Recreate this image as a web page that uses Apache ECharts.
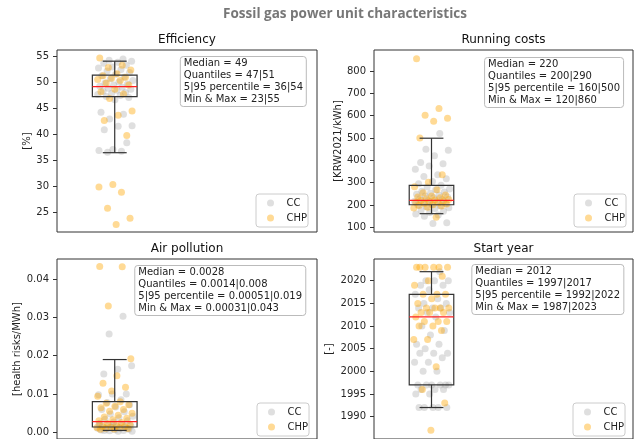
<!DOCTYPE html>
<html>
<head>
  <meta charset="utf-8">
  <title>Fossil gas power unit characteristics</title>
  <script src="https://cdn.jsdelivr.net/npm/echarts@6/dist/echarts.min.js"></script>
  <style>
    html, body { margin: 0; padding: 0; background: #fff; }
    #main { width: 634px; height: 439px; }
  </style>
</head>
<body>
  <div id="main"></div>
  <script>
    // values
    const effCC = [54.4, 54.2, 54.0, 53.8, 53.6, 53.2, 52.9, 52.7, 52.4, 52.1, 51.8, 51.5, 51.2, 50.9, 50.6, 50.3, 50.0, 49.8, 49.6, 49.4, 49.2, 49.0, 48.8, 48.6, 48.4, 48.2, 48.0, 47.8, 47.6, 47.4, 47.2, 47.0, 46.6, 44.2, 43.8, 42.9, 41.6, 41.5, 40.8, 38.3, 37.0, 36.8, 36.7, 36.5];
    const effCHP = [54.6, 53.2, 52.8, 52.3, 51.6, 51.2, 50.9, 50.7, 50.5, 50.3, 49.8, 49.4, 48.6, 48.1, 47.7, 46.8, 44.4, 43.6, 42.6, 39.7, 30.3, 29.8, 28.8, 25.7, 23.8, 22.6];
    const effBox = [36.4, 47.2, 49.1, 51.3, 54.0];
    const effStats = ['Median = 49', 'Quantiles = 47|51', '5|95 percentile = 36|54', 'Min & Max = 23|55'];
    const effTicks = [25, 30, 35, 40, 45, 50, 55];

    const rcCC = [520, 450, 445, 420, 390, 385, 375, 360, 335, 328, 318, 305, 295, 288, 280, 272, 268, 262, 258, 252, 248, 244, 240, 236, 232, 228, 224, 220, 217, 214, 210, 206, 203, 200, 196, 192, 188, 184, 178, 172, 166, 160, 155, 150, 120, 117];
    const rcCHP = [855, 632, 602, 588, 575, 500, 335, 302, 282, 268, 255, 245, 240, 236, 232, 228, 225, 222, 220, 218, 215, 212, 210, 207, 204, 201, 198, 195, 190, 186, 145];
    const rcBox = [161, 201, 221, 288, 499];
    const rcStats = ['Median = 220', 'Quantiles = 200|290', '5|95 percentile = 160|500', 'Min & Max = 120|860'];
    const rcTicks = [100, 200, 300, 400, 500, 600, 700, 800];

    const apCC = [0.0303, 0.0257, 0.0174, 0.0165, 0.0152, 0.0100, 0.0100, 0.0098, 0.0085, 0.0078, 0.0072, 0.0066, 0.0060, 0.0054, 0.0048, 0.0042, 0.0038, 0.0034, 0.0030, 0.0027, 0.0024, 0.0021, 0.0019, 0.0017, 0.0015, 0.0014, 0.0013, 0.0012, 0.0011, 0.0010, 0.0009, 0.0008, 0.0007, 0.0006, 0.0005, 0.0004, 0.0003, 0.0003, 0.0005, 0.0010, 0.0016, 0.0022];
    const apCHP = [0.0433, 0.0432, 0.0330, 0.0192, 0.0148, 0.0128, 0.0118, 0.0108, 0.0094, 0.0080, 0.0076, 0.0072, 0.0068, 0.0064, 0.0060, 0.0055, 0.0050, 0.0045, 0.0040, 0.0037, 0.0033, 0.0030, 0.0026, 0.0023, 0.0020, 0.0018, 0.0016, 0.0015, 0.0014, 0.0013, 0.0012, 0.0011, 0.0010, 0.0009, 0.0008];
    const apBox = [0.00051, 0.0014, 0.0028, 0.008, 0.019];
    const apStats = ['Median = 0.0028', 'Quantiles = 0.0014|0.008', '5|95 percentile = 0.00051|0.019', 'Min & Max = 0.00031|0.043'];
    const apTicks = [0, 0.01, 0.02, 0.03, 0.04];

    const syCC = [2022, 2020, 2020, 2020, 2019, 2019, 2018, 2017, 2016, 2015, 2015, 2014, 2014, 2014, 2013, 2013, 2012, 2010, 2009, 2008, 2006, 2006, 2005, 2004, 2004, 2004, 2003, 2002, 2002, 2000, 2000, 1997, 1997, 1997, 1997, 1997, 1997, 1996, 1996, 1996, 1995, 1995, 1992, 1992, 1992, 1992, 1992];
    const syCHP = [2023, 2023, 2023, 2023, 2023, 2023, 2021, 2020, 2019, 2017, 2017, 2017, 2016, 2015, 2014, 2014, 2014, 2014, 2013, 2013, 2013, 2012, 2011, 2011, 2011, 2010, 2010, 2009, 2007, 2007, 2001, 1996, 1993, 1987];
    const syBox = [1992, 1997, 2012, 2017, 2022];
    const syStats = ['Median = 2012', 'Quantiles = 1997|2017', '5|95 percentile = 1992|2022', 'Min & Max = 1987|2023'];
    const syTicks = [1990, 1995, 2000, 2005, 2010, 2015, 2020];

    const panelTitles = ['Efficiency', 'Running costs', 'Air pollution', 'Start year'];
    const unitNames = ['[%]', '[KRW2021/kWh]', '[health risks/MWh]', '[-]'];

    // layout
    const grids = [
      { left: 57, top: 50, width: 260, height: 182 },
      { left: 374, top: 50, width: 259, height: 182 },
      { left: 57, top: 259, width: 260, height: 182 },
      { left: 374, top: 259, width: 259, height: 182 }
    ];
    const yRanges = [[21.15, 56.15], [79, 894], [-0.00173, 0.04524], [1985.05, 2024.8]];
    const nameGaps = [24, 31, 35, 40];
    const statsPos = [{ right: 327, top: 56 }, { right: 10, top: 57 }, { right: 328, top: 265 }, { right: 10, top: 264 }];
    const legendPos = [{ left: 256, top: 194 }, { left: 574, top: 194 }, { left: 257, top: 403 }, { left: 573, top: 403 }];

    const ccList = [effCC, rcCC, apCC, syCC];
    const chpList = [effCHP, rcCHP, apCHP, syCHP];
    const boxList = [effBox, rcBox, apBox, syBox];
    const statsList = [effStats, rcStats, apStats, syStats];
    const tickList = [effTicks, rcTicks, apTicks, syTicks];

    const BOX_X = 0.222;   // box centre on the hidden 0..1 x axis
    const BOX_HW = 0.086;
    const CAP_HW = 0.046;
    const JIT = 0.07;
    const CC_COLOR = 'rgba(160,160,160,0.42)';
    const CHP_COLOR = 'rgba(255,165,0,0.52)';
    const FONT = 'DejaVu Sans';

    // horizontal spread of the dots (golden ratio sequence, not the values)
    function jitter(vals, seed) {
      return vals.map((v, i) => {
        const f = ((i + 1) * 0.618034 + seed) % 1;
        return [BOX_X + (f - 0.5) * 2 * JIT, v];
      });
    }

    function renderBox(params, api) {
      const p5 = api.value(0), q1 = api.value(1), med = api.value(2), q3 = api.value(3), p95 = api.value(4);
      const pt = (x, y) => api.coord([x, y]);
      const tl = pt(BOX_X - BOX_HW, q3), br = pt(BOX_X + BOX_HW, q1);
      const stroke = { stroke: '#333', lineWidth: 1.2 };
      const line = (a, b, st) => ({ type: 'line', shape: { x1: a[0], y1: a[1], x2: b[0], y2: b[1] }, style: st });
      return {
        type: 'group',
        children: [
          { type: 'rect', shape: { x: tl[0], y: tl[1], width: br[0] - tl[0], height: br[1] - tl[1] }, style: { fill: 'none', stroke: '#333', lineWidth: 1.2 } },
          line(pt(BOX_X, q3), pt(BOX_X, p95), stroke),
          line(pt(BOX_X, q1), pt(BOX_X, p5), stroke),
          line(pt(BOX_X - CAP_HW, p95), pt(BOX_X + CAP_HW, p95), stroke),
          line(pt(BOX_X - CAP_HW, p5), pt(BOX_X + CAP_HW, p5), stroke),
          line(pt(BOX_X - BOX_HW, med), pt(BOX_X + BOX_HW, med), { stroke: '#ff2020', lineWidth: 1.2 })
        ]
      };
    }

    const chart = echarts.init(document.getElementById('main'));

    const titles = [{
      text: 'Fossil gas power unit characteristics',
      left: 345, top: 7, textAlign: 'center', padding: 0,
      textStyle: { fontFamily: 'Open Sans', fontWeight: 'bold', fontSize: 13.5, color: '#777' }
    }];
    const xAxes = [], yAxes = [], series = [], legends = [];

    grids.forEach((g, k) => {
      titles.push({
        text: panelTitles[k],
        left: g.left + g.width / 2, top: g.top - 16, textAlign: 'center', padding: 0,
        textStyle: { fontFamily: FONT, fontWeight: 'normal', fontSize: 12, color: '#111' }
      });
      titles.push(Object.assign({
        text: statsList[k].join('\n'),
        padding: [2, 4, 2, 4],
        backgroundColor: 'rgba(255,255,255,0.85)',
        borderColor: '#bbb', borderWidth: 1, borderRadius: 3,
        textStyle: { fontFamily: FONT, fontWeight: 'normal', fontSize: 10, lineHeight: 11.7, color: '#222' }
      }, statsPos[k]));

      xAxes.push({ type: 'value', gridIndex: k, min: 0, max: 1, show: false });
      yAxes.push({
        type: 'value', gridIndex: k,
        min: yRanges[k][0], max: yRanges[k][1],
        name: unitNames[k], nameLocation: 'middle', nameGap: nameGaps[k],
        nameTextStyle: { fontFamily: FONT, fontSize: 10, color: '#222' },
        axisLine: { show: false },
        axisTick: { show: true, length: 4, customValues: tickList[k], lineStyle: { color: '#333' } },
        axisLabel: {
          customValues: tickList[k], margin: 8,
          fontFamily: FONT, fontSize: 10, color: '#262626',
          formatter: k === 2 ? (v => v.toFixed(2)) : (v => String(v))
        },
        splitLine: { show: false }
      });

      series.push({
        name: 'CC', type: 'scatter', xAxisIndex: k, yAxisIndex: k, z: 2,
        symbolSize: 7, itemStyle: { color: CC_COLOR },
        data: jitter(ccList[k], 0.11)
      });
      series.push({
        name: 'CHP', type: 'scatter', xAxisIndex: k, yAxisIndex: k, z: 2,
        symbolSize: 7, itemStyle: { color: CHP_COLOR },
        data: jitter(chpList[k], 0.47)
      });
      series.push({
        type: 'custom', xAxisIndex: k, yAxisIndex: k, z: 3,
        renderItem: renderBox, silent: true,
        data: [boxList[k]]
      });

      legends.push(Object.assign({
        data: ['CC', 'CHP'], orient: 'vertical',
        icon: 'circle', itemWidth: 22, itemHeight: 7, itemGap: 3,
        padding: [3, 1, 3, 11],
        backgroundColor: 'rgba(255,255,255,0.8)',
        borderColor: '#ccc', borderWidth: 1, borderRadius: 3,
        textStyle: { fontFamily: FONT, fontSize: 10, lineHeight: 12, color: '#222' }
      }, legendPos[k]));
    });

    chart.setOption({
      animation: false,
      backgroundColor: '#fff',
      title: titles,
      grid: grids.map(g => Object.assign({ show: true, borderColor: '#333', borderWidth: 1, containLabel: false }, g)),
      xAxis: xAxes,
      yAxis: yAxes,
      legend: legends,
      series: series
    });
  </script>
</body>
</html>
